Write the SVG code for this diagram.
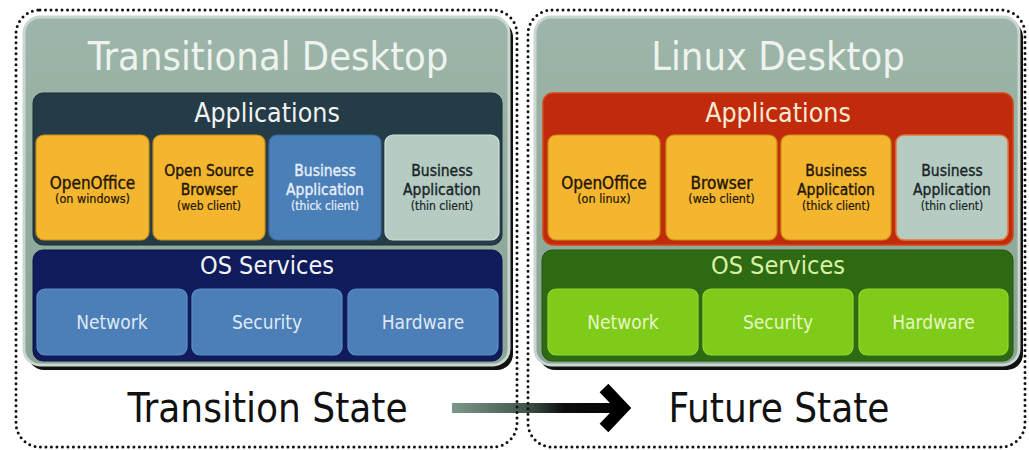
<svg xmlns="http://www.w3.org/2000/svg" width="1029" height="450" viewBox="0 0 1029 450">
<defs>
<linearGradient id="panelG" x1="0" y1="0" x2="0" y2="1">
<stop offset="0" stop-color="#9db6a9"/>
<stop offset="1" stop-color="#89a395"/>
</linearGradient>
<linearGradient id="arrowG" x1="452" y1="0" x2="633" y2="0" gradientUnits="userSpaceOnUse">
<stop offset="0" stop-color="#7c988a"/>
<stop offset="0.4" stop-color="#42584d"/>
<stop offset="0.62" stop-color="#0b0e0c"/>
<stop offset="1" stop-color="#000"/>
</linearGradient>
</defs>
<style>
text{font-family:"DejaVu Sans Condensed","DejaVu Sans",sans-serif;text-anchor:middle}
.shadow{fill:#111}
.panel{fill:url(#panelG);stroke:#c9d7d0;stroke-width:3}
.title{font-size:39.5px;fill:#eef3ef}
.apps-title{font-size:26.5px}
.os-title{font-size:25px}
.box{stroke-width:1.2}
.orange{fill:#f4b52f;stroke:#c98f14}
.blue{fill:#4a7fb8;stroke:#3a6aa0}
.grey{fill:#b6cbc1;stroke:#d3e0da}
.main{font-size:17px;stroke-width:0.35px}
.main3{font-size:15.5px;stroke-width:0.35px}
.sub{font-size:12.5px;stroke-width:0.2px}
.sub3{font-size:12px;stroke-width:0.2px}
.dark{fill:#221608;stroke:#221608}
.darkg{fill:#18262a;stroke:#18262a}
.light{fill:#e6eef8;stroke:#e6eef8}
.svc{font-size:19px}
.state{font-size:40px;fill:#111}
.dots{fill:none;stroke:#111;stroke-width:3;stroke-dasharray:0 5.5;stroke-linecap:round}
</style>

<!-- Left panel -->
<g id="transitional-desktop">
<rect class="shadow" x="28" y="21" width="485" height="349" rx="16"/>
<rect class="panel" x="24" y="17" width="485" height="348" rx="16"/>
<text class="title" x="268" y="70">Transitional Desktop</text>
</g>
<g id="left-applications">
<rect x="33" y="93" width="469" height="152" rx="10" fill="#243c47" stroke="#1a2c34" stroke-width="1"/>
<text class="apps-title" x="267" y="122" fill="#f2f2f2">Applications</text>
</g>
<g id="left-openoffice">
<rect class="box orange" x="36" y="135" width="113" height="105" rx="8"/>
<text class="main dark" x="92.5" y="189">OpenOffice</text>
<text class="sub dark" x="92.5" y="203">(on windows)</text>
</g>
<g id="left-browser">
<rect class="box orange" x="153" y="135" width="112" height="105" rx="8"/>
<text class="main3 dark" x="209" y="176">Open Source</text>
<text class="main3 dark" x="209" y="194.5">Browser</text>
<text class="sub3 dark" x="209" y="210">(web client)</text>
</g>
<g id="left-thick">
<rect class="box blue" x="269" y="135" width="112" height="105" rx="8"/>
<text class="main3 light" x="325" y="176">Business</text>
<text class="main3 light" x="325" y="194.5">Application</text>
<text class="sub3 light" x="325" y="210">(thick client)</text>
</g>
<g id="left-thin">
<rect class="box grey" x="385" y="135" width="114" height="105" rx="8"/>
<text class="main3 darkg" x="442" y="176">Business</text>
<text class="main3 darkg" x="442" y="194.5">Application</text>
<text class="sub3 darkg" x="442" y="210">(thin client)</text>
</g>
<g id="left-os-services">
<rect x="33" y="250" width="469" height="111" rx="10" fill="#0f1b5b" stroke="#0a1448" stroke-width="1"/>
<text class="os-title" x="267" y="274" fill="#f2f4f8">OS Services</text>
</g>
<g id="left-network">
<rect x="37" y="289" width="150" height="66" rx="8" fill="#4c7eb7" stroke="#5d8ec5" stroke-width="1.2"/>
<text class="svc" x="112" y="329" fill="#dfe9f5">Network</text>
</g>
<g id="left-security">
<rect x="192" y="289" width="150" height="66" rx="8" fill="#4c7eb7" stroke="#5d8ec5" stroke-width="1.2"/>
<text class="svc" x="267" y="329" fill="#dfe9f5">Security</text>
</g>
<g id="left-hardware">
<rect x="348" y="289" width="150" height="66" rx="8" fill="#4c7eb7" stroke="#5d8ec5" stroke-width="1.2"/>
<text class="svc" x="423" y="329" fill="#dfe9f5">Hardware</text>
</g>

<!-- Right panel -->
<g id="linux-desktop">
<rect class="shadow" x="539" y="21" width="484" height="349" rx="16"/>
<rect class="panel" x="535" y="17" width="484" height="348" rx="16"/>
<text class="title" x="778" y="70">Linux Desktop</text>
</g>
<g id="right-applications">
<rect x="543" y="93" width="470" height="152" rx="10" fill="#c12a0b" stroke="#d3461a" stroke-width="1.5"/>
<text class="apps-title" x="778" y="122" fill="#f8ead2">Applications</text>
</g>
<g id="right-openoffice">
<rect class="box orange" x="548" y="135" width="112" height="105" rx="8"/>
<text class="main dark" x="604" y="189">OpenOffice</text>
<text class="sub dark" x="604" y="203">(on linux)</text>
</g>
<g id="right-browser">
<rect class="box orange" x="666" y="135" width="111" height="105" rx="8"/>
<text class="main dark" x="721.5" y="189">Browser</text>
<text class="sub dark" x="721.5" y="203">(web client)</text>
</g>
<g id="right-thick">
<rect class="box orange" x="781" y="135" width="110" height="105" rx="8"/>
<text class="main3 dark" x="836" y="176">Business</text>
<text class="main3 dark" x="836" y="194.5">Application</text>
<text class="sub3 dark" x="836" y="210">(thick client)</text>
</g>
<g id="right-thin">
<rect x="896" y="135" width="112" height="105" rx="8" fill="#b6cbc1" stroke="#e07a3a" stroke-width="1.5"/>
<text class="main3 darkg" x="952" y="176">Business</text>
<text class="main3 darkg" x="952" y="194.5">Application</text>
<text class="sub3 darkg" x="952" y="210">(thin client)</text>
</g>
<g id="right-os-services">
<rect x="542" y="250" width="471" height="111" rx="10" fill="#2e6a12" stroke="#24580c" stroke-width="1"/>
<text class="os-title" x="778" y="274" fill="#d9f1a6">OS Services</text>
</g>
<g id="right-network">
<rect x="548" y="289" width="150" height="66" rx="8" fill="#7ecb1a" stroke="#90d92e" stroke-width="1.2"/>
<text class="svc" x="623" y="329" fill="#e6f6c2">Network</text>
</g>
<g id="right-security">
<rect x="703" y="289" width="150" height="66" rx="8" fill="#7ecb1a" stroke="#90d92e" stroke-width="1.2"/>
<text class="svc" x="778" y="329" fill="#e6f6c2">Security</text>
</g>
<g id="right-hardware">
<rect x="859" y="289" width="149" height="66" rx="8" fill="#7ecb1a" stroke="#90d92e" stroke-width="1.2"/>
<text class="svc" x="933.5" y="329" fill="#e6f6c2">Hardware</text>
</g>

<g id="transition-state">
<text class="state" x="267.5" y="422">Transition State</text>
</g>
<g id="future-state">
<text class="state" x="779" y="422">Future State</text>
</g>

<!-- Connectors -->
<g id="connectors">
<rect x="452" y="403" width="165" height="10" fill="url(#arrowG)"/>
<polyline points="604,388 623,408 604,428" fill="none" stroke="#000" stroke-width="12" stroke-linejoin="miter"/>
</g>

<!-- Dotted frames -->
<g id="frames">
<rect class="dots" x="16" y="10" width="501" height="437" rx="24"/>
<rect class="dots" x="528" y="10" width="497" height="437" rx="24"/>
</g>
</svg>
